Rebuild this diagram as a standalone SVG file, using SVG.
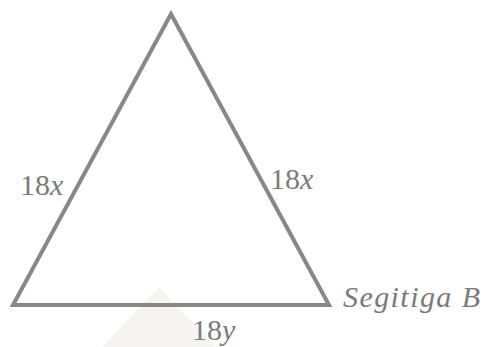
<svg xmlns="http://www.w3.org/2000/svg" width="482" height="347" viewBox="0 0 482 347">
<style>
.lbl{font-family:"Liberation Serif","DejaVu Serif",serif;font-size:30px;fill:#7a7a7a}
.it{font-style:italic}
</style>
<rect width="482" height="347" fill="#ffffff"/>
<polygon points="159,287 102,347 216,347" fill="#f5f4f1"/>
<g id="triangle">
<polygon points="171,14 13,305 329,305" fill="none" stroke="#888888" stroke-width="4" stroke-linejoin="miter"/>
</g>
<g id="labels">
<text class="lbl" x="20" y="195">18<tspan class="it">x</tspan></text>
<text class="lbl" x="270" y="189">18<tspan class="it">x</tspan></text>
<text class="lbl it" x="343" y="307" textLength="137" lengthAdjust="spacing">Segitiga B</text>
<text class="lbl" x="192" y="340">18<tspan class="it">y</tspan></text>
</g>
</svg>
